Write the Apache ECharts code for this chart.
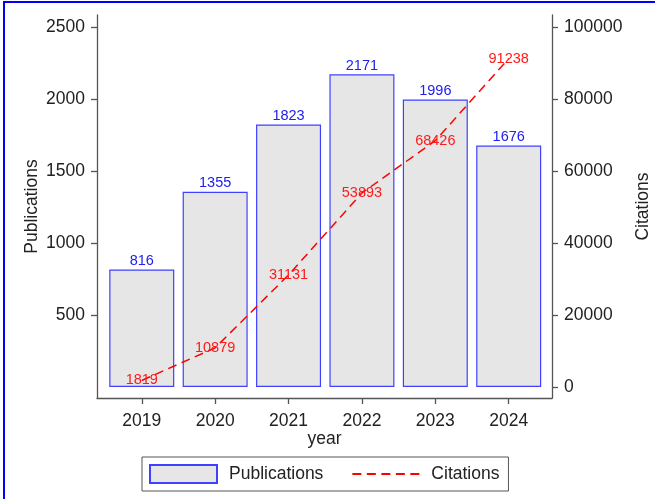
<!DOCTYPE html>
<html>
<head>
<meta charset="utf-8">
<script src="https://cdn.jsdelivr.net/npm/echarts@6/dist/echarts.min.js"></script>
<style>html,body{margin:0;padding:0;background:#fff;}#c{width:655px;height:499px;}</style>
</head>
<body>
<div id="c"></div>
<script>
const years = [2019, 2020, 2021, 2022, 2023, 2024];
const publications = [816, 1355, 1823, 2171, 1996, 1676];
const citations = [1819, 10879, 31131, 53893, 68426, 91238];
const leftTicks = [500, 1000, 1500, 2000, 2500];
const rightTicks = [0, 20000, 40000, 60000, 80000, 100000];

const font = 'Liberation Sans, Arial, sans-serif';
const chart = echarts.init(document.getElementById('c'));
const axisLine = { show: true, onZero: false, lineStyle: { color: '#555', width: 1.3 } };
chart.setOption({
  animation: false,
  backgroundColor: '#fff',
  textStyle: { fontFamily: font },
  graphic: [{
    type: 'rect', z: 100, silent: true,
    shape: { x: 4, y: 2, width: 800, height: 700 },
    style: { fill: 'none', stroke: '#0000ff', lineWidth: 2 }
  }],
  grid: { left: 97, right: 103, top: 15, bottom: 101, containLabel: false, outerBoundsMode: 'none' },
  legend: {
    left: 142, top: 457,
    orient: 'horizontal',
    padding: [7, 9, 7, 7],
    itemGap: 28,
    itemWidth: 67, itemHeight: 18,
    borderColor: '#555', borderWidth: 1,
    backgroundColor: '#fff',
    textStyle: { fontSize: 17.5, color: '#222', fontFamily: font, padding: [0, 0, 0, 7] },
    data: [{ name: 'Publications', icon: 'rect' }, { name: 'Citations' }]
  },
  xAxis: {
    type: 'value', min: 2018.39, max: 2024.59,
    name: 'year', nameLocation: 'middle', nameGap: 32, nameMoveOverlap: false,
    nameTextStyle: { fontSize: 17.5, color: '#222', fontFamily: font },
    axisLine: axisLine,
    axisTick: { show: true, length: 6, customValues: years, lineStyle: { color: '#555', width: 1.3 } },
    axisLabel: { customValues: years, fontSize: 17.5, color: '#222', margin: 14, fontFamily: font, formatter: v => String(v) },
    splitLine: { show: false }
  },
  yAxis: [{
    type: 'value', min: -76.4, max: 2583, position: 'left',
    name: 'Publications', nameLocation: 'middle', nameGap: 56, nameRotate: 90, nameMoveOverlap: false,
    nameTextStyle: { fontSize: 17.5, color: '#222', fontFamily: font },
    axisLine: axisLine,
    axisTick: { show: true, length: 6, customValues: leftTicks, lineStyle: { color: '#555', width: 1.3 } },
    axisLabel: { customValues: leftTicks, fontSize: 17.5, color: '#222', margin: 12, fontFamily: font, formatter: v => String(v) },
    splitLine: { show: false }
  }, {
    type: 'value', min: -3056, max: 103333, position: 'right',
    name: 'Citations', nameLocation: 'middle', nameGap: 82, nameRotate: 90, nameMoveOverlap: false,
    nameTextStyle: { fontSize: 17.5, color: '#222', fontFamily: font },
    axisLine: axisLine,
    axisTick: { show: true, length: 6, customValues: rightTicks, lineStyle: { color: '#555', width: 1.3 } },
    axisLabel: { customValues: rightTicks, fontSize: 17.5, color: '#222', margin: 12, fontFamily: font, formatter: v => String(v) },
    splitLine: { show: false }
  }],
  series: [{
    name: 'Publications', type: 'bar', yAxisIndex: 0,
    barWidth: 65,
    data: years.map((y, i) => [y, publications[i]]),
    itemStyle: { color: '#e6e6e6', borderColor: '#4040ff', borderWidth: 1.2 },
    label: { show: true, position: 'top', distance: 1, color: '#2020f0', fontSize: 14.5, fontFamily: font, formatter: p => String(p.value[1]) }
  }, {
    name: 'Citations', type: 'line', yAxisIndex: 1,
    data: years.map((y, i) => [y, citations[i]]),
    symbol: 'circle', symbolSize: 1, showSymbol: true,
    itemStyle: { color: 'rgba(255,0,0,0)' },
    lineStyle: { color: '#ff0000', width: 1.5, type: [9, 5.5] },
    label: { show: true, position: 'inside', color: '#ff1a1a', fontSize: 14.5, fontFamily: font, formatter: p => String(p.value[1]) },
    z: 5
  }]
});
</script>
</body>
</html>
